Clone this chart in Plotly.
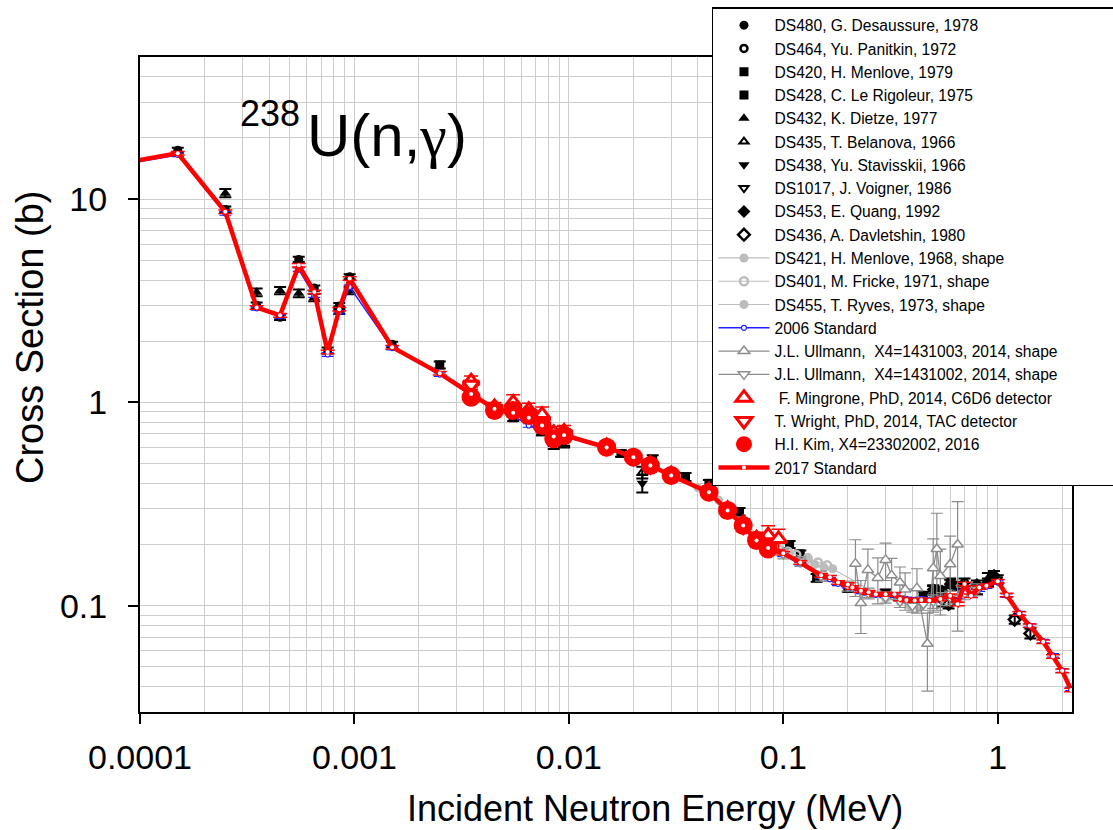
import math
import plotly.graph_objects as go

# ---------------- data (energy in MeV, cross section in b) ----------------
std_E = [5e-5, 1.5e-4, 2.5e-4, 3.5e-4, 4.5e-4, 5.5e-4, 6.5e-4, 7.5e-4, 8.5e-4, 9.5e-4,
         1.5e-3, 2.5e-3, 3.5e-3, 4.5e-3, 5.5e-3, 6.5e-3, 7.5e-3, 8.5e-3, 9.5e-3,
         0.015, 0.02, 0.024, 0.03, 0.045, 0.055, 0.065, 0.075, 0.085, 0.1, 0.12,
         0.15, 0.165, 0.18, 0.2, 0.21, 0.23, 0.25, 0.27, 0.3, 0.33, 0.35, 0.375,
         0.41, 0.44, 0.48, 0.54, 0.6, 0.65, 0.7, 0.75, 0.82, 0.885, 1.0, 1.1,
         1.26, 1.41, 1.63, 1.81, 2.0, 2.2]
std2017_S = [13.7, 16.8, 8.66, 2.93, 2.68, 4.73, 3.49, 1.77, 2.87, 4.07,
             1.87, 1.39, 1.1, 0.93, 0.89, 0.84, 0.77, 0.68, 0.69,
             0.60, 0.538, 0.489, 0.437, 0.361, 0.294, 0.248, 0.209, 0.192, 0.181, 0.163,
             0.141, 0.138, 0.130, 0.127, 0.123, 0.1186, 0.1163, 0.114, 0.114, 0.114, 0.108, 0.1067,
             0.106, 0.1067, 0.106, 0.108, 0.112, 0.102, 0.128, 0.112, 0.123, 0.1255, 0.132, 0.113,
             0.0916, 0.0797, 0.0665, 0.0563, 0.0478, 0.0385]
std2006_S = [13.5, 16.5, 8.5, 2.9, 2.65, 4.5, 3.35, 1.72, 2.78, 3.7,
             1.85, 1.37, 1.09, 0.92, 0.86, 0.77, 0.74, 0.67, 0.68,
             0.595, 0.53, 0.485, 0.432, 0.357, 0.29, 0.244, 0.206, 0.19, 0.178, 0.16,
             0.139, 0.135, 0.128, 0.125, 0.121, 0.117, 0.115, 0.113, 0.112, 0.112, 0.109, 0.108,
             0.107, 0.108, 0.107, 0.109, 0.111, 0.106, 0.118, 0.114, 0.12, 0.124, 0.13, 0.112,
             0.092, 0.08, 0.067, 0.057, 0.048, 0.039]

ds480_E = [1.5e-4, 2.5e-4, 3.5e-4, 4.5e-4, 5.5e-4, 6.5e-4, 7.5e-4, 8.5e-4, 9.5e-4, 1.5e-3]
ds480_S = [17.4, 8.9, 3.0, 2.62, 5.05, 3.65, 1.8, 2.98, 4.15, 1.93]
ds480_err = [0.5, 0.3, 0.1, 0.08, 0.15, 0.11, 0.06, 0.1, 0.12, 0.06]

ds464_E = [0.024, 0.03, 0.6, 0.65, 0.7]
ds464_S = [0.5, 0.445, 0.13, 0.125, 0.13]
ds464_err = [0.02, 0.015, 0.006, 0.006, 0.006]

ds420_E = [0.107, 0.12, 0.143, 0.2, 0.3, 0.45, 0.55]
ds420_S = [0.2, 0.18, 0.137, 0.122, 0.115, 0.112, 0.118]
ds420_err = [0.008, 0.007, 0.006, 0.005, 0.005, 0.005, 0.005]

ds428_E = [0.0025, 0.0055, 0.0075, 0.0175, 0.0246, 0.035, 0.045, 0.0625, 0.08]
ds428_S = [1.53, 0.84, 0.72, 0.561, 0.52, 0.43, 0.40, 0.29, 0.215]
ds428_err = [0.06, 0.03, 0.03, 0.02, 0.03, 0.02, 0.015, 0.012, 0.01]

ds432_E = [2.5e-4, 3.5e-4, 4.5e-4, 5.5e-4, 6.5e-4, 8.5e-4, 9.5e-4, 0.0075, 0.0085, 0.0095]
ds432_S = [10.7, 3.48, 3.55, 3.44, 3.28, 2.84, 3.55, 0.72, 0.64, 0.64]
ds432_err = [0.5, 0.15, 0.15, 0.15, 0.14, 0.12, 0.15, 0.03, 0.03, 0.03]

ds435_E = [0.022, 0.5, 0.9]
ds435_S = [0.452, 0.115, 0.135]
ds435_err = [0.03, 0.01, 0.01]

ds438_E = [0.0085, 0.0095, 0.022]
ds438_S = [0.62, 0.63, 0.40]
ds438_err = [0.03, 0.03, 0.04]

ds1017_E = [0.55, 0.8, 1.0]
ds1017_S = [0.105, 0.12, 0.135]
ds1017_err = [0.006, 0.006, 0.006]

ds453_E = [0.5, 0.55, 0.6, 0.7, 0.8, 0.9, 0.96]
ds453_S = [0.12, 0.118, 0.128, 0.123, 0.127, 0.13, 0.141]
ds453_err = [0.006, 0.006, 0.006, 0.006, 0.006, 0.006, 0.007]

ds436_E = [0.59, 1.2, 1.42]
ds436_S = [0.102, 0.0855, 0.073]
ds436_err = [0.005, 0.004, 0.004]

ds421_E = [0.13, 0.14, 0.155, 0.17, 0.3, 0.35, 0.39, 0.43]
ds421_S = [0.173, 0.16, 0.154, 0.152, 0.108, 0.105, 0.1, 0.098]

ds401_E = [0.095, 0.105, 0.115, 0.13, 0.145, 0.16]
ds401_S = [0.19, 0.185, 0.178, 0.17, 0.163, 0.158]

ds455_E = [0.03, 0.04, 0.05, 0.065, 0.08]
ds455_S = [0.445, 0.38, 0.33, 0.255, 0.215]

ull03_E = [0.217, 0.23, 0.248, 0.276, 0.30, 0.32, 0.35, 0.37, 0.42, 0.47, 0.50, 0.52, 0.54, 0.6, 0.65]
ull03_S = [0.161, 0.103, 0.15, 0.137, 0.168, 0.141, 0.13, 0.12, 0.122, 0.065, 0.153, 0.19, 0.14, 0.16, 0.2]
ull03_err = [0.05, 0.03, 0.04, 0.035, 0.035, 0.03, 0.025, 0.025, 0.03, 0.027, 0.06, 0.095, 0.05, 0.06, 0.125]

ull02_E = [0.1, 0.12, 0.15, 0.2, 0.25, 0.3, 0.35, 0.4, 0.45, 0.5, 0.55, 0.6, 0.7, 0.8]
ull02_S = [0.18, 0.165, 0.14, 0.125, 0.115, 0.11, 0.105, 0.1, 0.102, 0.105, 0.108, 0.11, 0.115, 0.12]
ull02_err = [0.01, 0.009, 0.008, 0.007, 0.007, 0.007, 0.007, 0.007, 0.007, 0.008, 0.008, 0.008, 0.008, 0.008]

ming_E = [0.0035, 0.0045, 0.0055, 0.0065, 0.0075, 0.0085, 0.0095, 0.015, 0.02, 0.024,
          0.03, 0.045, 0.055, 0.065, 0.075, 0.085, 0.095]
ming_S = [1.27, 0.95, 1.0, 0.92, 0.87, 0.71, 0.72, 0.61, 0.54, 0.5,
          0.445, 0.37, 0.3, 0.255, 0.215, 0.222, 0.213]
ming_err = [0.08, 0.05, 0.09, 0.07, 0.08, 0.05, 0.05, 0.03, 0.025, 0.025,
            0.02, 0.018, 0.015, 0.013, 0.015, 0.025, 0.025]

wright_E = [0.0035, 0.0045, 0.0055, 0.0065, 0.0075, 0.0085, 0.0095, 0.015, 0.02, 0.024,
            0.03, 0.045, 0.055, 0.065, 0.075, 0.085]
wright_S = [1.22, 0.93, 0.93, 0.88, 0.8, 0.68, 0.7, 0.6, 0.535, 0.485,
            0.435, 0.36, 0.295, 0.245, 0.21, 0.195]
wright_err = [0.06, 0.04, 0.05, 0.05, 0.05, 0.04, 0.04, 0.025, 0.02, 0.02,
              0.015, 0.012, 0.012, 0.01, 0.01, 0.01]

kim_E = [0.0035, 0.0045, 0.0055, 0.0065, 0.0075, 0.0085, 0.0095, 0.015, 0.02, 0.024,
         0.03, 0.045, 0.055, 0.065, 0.075, 0.085]
kim_S = [1.06, 0.913, 0.913, 0.863, 0.77, 0.663, 0.688, 0.602, 0.538, 0.489,
         0.437, 0.361, 0.294, 0.248, 0.209, 0.19]

x_ticks = [1e-4, 1e-3, 1e-2, 0.1, 1]
x_ticktext = ["0.0001", "0.001", "0.01", "0.1", "1"]
y_ticks = [0.1, 1, 10]
y_ticktext = ["0.1", "1", "10"]

# ---------------- figure ----------------
fig = go.Figure()
GRAY_L = "#bcbcbc"
GRAY_M = "#8c8c8c"
PAD = "\u00a0" * 12   # invisible padding so the legend box reaches the right edge, as in the original


def black_pts(E, S, err, name, symbol, size=9, lw=0):
    fig.add_trace(go.Scatter(
        x=E, y=S, mode="markers", name=name,
        marker=dict(symbol=symbol, size=size, color="black", line=dict(color="black", width=lw)),
        error_y=dict(type="data", array=err, color="black", thickness=2, width=6),
    ))


black_pts(ds480_E, ds480_S, ds480_err, "DS480, G. Desaussure, 1978", "circle", 9)
black_pts(ds464_E, ds464_S, ds464_err, "DS464, Yu. Panitkin, 1972", "circle-open", 7, 2.5)
black_pts(ds420_E, ds420_S, ds420_err, "DS420, H. Menlove, 1979", "square", 9)
black_pts(ds428_E, ds428_S, ds428_err, "DS428, C. Le Rigoleur, 1975", "square", 9)
black_pts(ds432_E, ds432_S, ds432_err, "DS432, K. Dietze, 1977", "triangle-up", 10)
black_pts(ds435_E, ds435_S, ds435_err, "DS435, T. Belanova, 1966", "triangle-up-open", 8, 2)
black_pts(ds438_E, ds438_S, ds438_err, "DS438, Yu. Stavisskii, 1966", "triangle-down", 10)
black_pts(ds1017_E, ds1017_S, ds1017_err, "DS1017, J. Voigner, 1986", "triangle-down-open", 8, 2)
black_pts(ds453_E, ds453_S, ds453_err, "DS453, E. Quang, 1992", "diamond", 10)
black_pts(ds436_E, ds436_S, ds436_err, "DS436, A. Davletshin, 1980", "diamond-open", 9, 2.5)

fig.add_trace(go.Scatter(x=ds421_E, y=ds421_S, mode="lines+markers", name="DS421, H. Menlove, 1968, shape",
                         line=dict(color=GRAY_L, width=1.2),
                         marker=dict(symbol="circle", size=9, color=GRAY_L)))
fig.add_trace(go.Scatter(x=ds401_E, y=ds401_S, mode="lines+markers", name="DS401, M. Fricke, 1971, shape",
                         line=dict(color=GRAY_L, width=1.2),
                         marker=dict(symbol="circle-open", size=8, color=GRAY_L, line=dict(width=2.5))))
fig.add_trace(go.Scatter(x=ds455_E, y=ds455_S, mode="lines+markers", name="DS455, T. Ryves, 1973, shape",
                         line=dict(color=GRAY_L, width=1.2),
                         marker=dict(symbol="circle", size=9, color=GRAY_L)))

fig.add_trace(go.Scatter(x=std_E, y=std2006_S, mode="lines+markers", name="2006 Standard",
                         line=dict(color="#1f1fff", width=1.5),
                         marker=dict(symbol="circle", size=5, color="white", line=dict(color="#1f1fff", width=1.2)),
                         error_y=dict(type="percent", value=2, color="#1f1fff", thickness=1.2, width=6)))

fig.add_trace(go.Scatter(x=ull03_E, y=ull03_S, mode="lines+markers",
                         name="J.L. Ullmann,  X4=1431003, 2014, shape" + PAD,
                         line=dict(color=GRAY_M, width=1.3),
                         marker=dict(symbol="triangle-up", size=10, color="white", line=dict(color=GRAY_M, width=1.5)),
                         error_y=dict(type="data", array=ull03_err, color=GRAY_M, thickness=1.2, width=6)))
fig.add_trace(go.Scatter(x=ull02_E, y=ull02_S, mode="lines+markers", name="J.L. Ullmann,  X4=1431002, 2014, shape",
                         line=dict(color=GRAY_M, width=1.3),
                         marker=dict(symbol="triangle-down", size=10, color="white", line=dict(color=GRAY_M, width=1.5)),
                         error_y=dict(type="data", array=ull02_err, color=GRAY_M, thickness=1.2, width=6)))

fig.add_trace(go.Scatter(x=ming_E, y=ming_S, mode="markers", name=" F. Mingrone, PhD, 2014, C6D6 detector",
                         marker=dict(symbol="triangle-up", size=14, color="white", line=dict(color="red", width=3)),
                         error_y=dict(type="data", array=ming_err, color="red", thickness=1.5, width=7)))
fig.add_trace(go.Scatter(x=wright_E, y=wright_S, mode="markers", name="T. Wright, PhD, 2014, TAC detector",
                         marker=dict(symbol="triangle-down", size=14, color="white", line=dict(color="red", width=3)),
                         error_y=dict(type="data", array=wright_err, color="red", thickness=1.5, width=7)))
fig.add_trace(go.Scatter(x=kim_E, y=kim_S, mode="markers", name="H.I. Kim, X4=23302002, 2016",
                         marker=dict(symbol="circle", size=19, color="red", line=dict(width=0)),
                         error_y=dict(type="percent", value=3, color="red", thickness=1.5, width=7)))

fig.add_trace(go.Scatter(x=std_E, y=std2017_S, mode="lines+markers", name="2017 Standard",
                         line=dict(color="red", width=4.5),
                         marker=dict(symbol="circle", size=4, color="white", line=dict(width=0)),
                         error_y=dict(type="percent", value=2, color="red", thickness=1.5, width=7)))

minor_x = [m * 10 ** d for d in range(-4, 1) for m in range(2, 10)]
minor_y = [m * 10 ** d for d in range(-2, 2) for m in range(2, 10)]

GRID = "#cdcdcd"
fig.update_xaxes(type="log", range=[-4, math.log10(2.22)],
                 showline=True, linecolor="black", linewidth=2, mirror=True,
                 ticks="outside", ticklen=10, tickwidth=2, tickcolor="black",
                 tickvals=x_ticks, ticktext=x_ticktext, ticklabelstandoff=4,
                 tickfont=dict(family="Arial, Liberation Sans", size=34, color="black"),
                 showgrid=True, gridcolor=GRID, gridwidth=1.2, zeroline=False,
                 minor=dict(tickvals=minor_x, showgrid=True, gridcolor=GRID, gridwidth=1.2, ticks=""))
fig.update_yaxes(type="log", range=[math.log10(0.03), math.log10(50)],
                 showline=True, linecolor="black", linewidth=2, mirror=True,
                 ticks="outside", ticklen=10, tickwidth=2, tickcolor="black",
                 tickvals=y_ticks, ticktext=y_ticktext, ticklabelstandoff=14,
                 tickfont=dict(family="Arial, Liberation Sans", size=34, color="black"),
                 showgrid=True, gridcolor=GRID, gridwidth=1.2, zeroline=False,
                 minor=dict(tickvals=minor_y, showgrid=True, gridcolor=GRID, gridwidth=1.2, ticks=""))

fig.update_layout(
    width=1113, height=830,
    margin=dict(l=140, r=41, t=57, b=118, autoexpand=False),
    plot_bgcolor="white", paper_bgcolor="white",
    showlegend=True,
    legend=dict(x=0.6137, y=1.0763, xanchor="left", yanchor="top",
                bgcolor="white", bordercolor="black", borderwidth=1.5,
                font=dict(family="Arial, Liberation Sans", size=15.6, color="black"),
                itemwidth=51, tracegroupgap=0, maxheight=800),
    annotations=[
        dict(text="Incident Neutron Energy (MeV)", xref="paper", yref="paper",
             x=0.5526, y=-0.1466, xanchor="center", yanchor="middle", showarrow=False,
             font=dict(family="Arial, Liberation Sans", size=36, color="black")),
        dict(text="Cross Section (b)", xref="paper", yref="paper", textangle=-90,
             x=-0.118, y=0.5725, xanchor="center", yanchor="middle", showarrow=False,
             font=dict(family="Arial, Liberation Sans", size=38, color="black")),
        dict(text="238", xref="paper", yref="paper", x=0.1052, y=0.914,
             xanchor="left", yanchor="middle", showarrow=False,
             font=dict(family="Arial, Liberation Sans", size=36, color="black")),
        dict(text="U(n,<span style=\"font-family:serif\">γ</span>)", xref="paper", yref="paper",
             x=0.1771, y=0.88, xanchor="left", yanchor="middle", showarrow=False,
             font=dict(family="Arial, Liberation Sans", size=60, color="black")),
    ],
)

fig.write_html("out.html", config={"displayModeBar": False},
               post_script="document.body.style.margin='0px';")
